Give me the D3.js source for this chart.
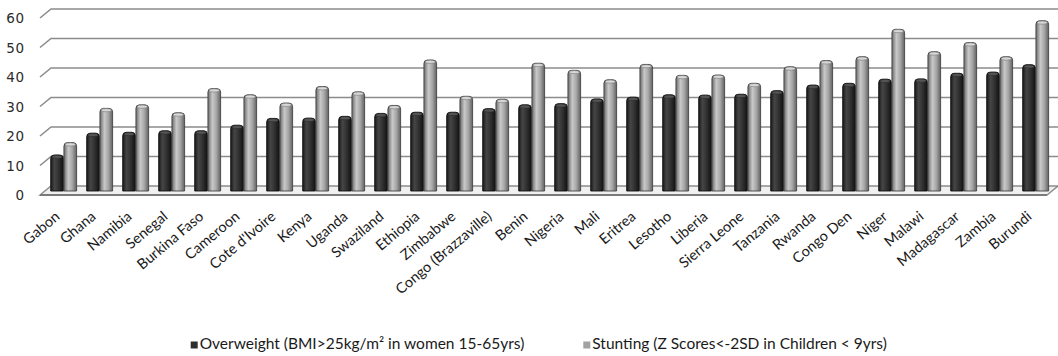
<!DOCTYPE html>
<html>
<head>
<meta charset="utf-8">
<script src="https://cdn.jsdelivr.net/npm/d3@7"></script>
<style>
  html, body { margin: 0; padding: 0; background: #fff; }
  svg { display: block; }
</style>
</head>
<body>
<svg id="chart" width="1058" height="356"></svg>
<script>
const categories = ["Gabon","Ghana","Namibia","Senegal","Burkina Faso","Cameroon","Cote d'Ivoire","Kenya","Uganda","Swaziland","Ethiopia","Zimbabwe","Congo (Brazzaville)","Benin","Nigeria","Mali","Eritrea","Lesotho","Liberia","Sierra Leone","Tanzania","Rwanda","Congo Den","Niger","Malawi","Madagascar","Zambia","Burundi"];
const overweight = [12.2,19.6,19.9,20.4,20.4,22.3,24.6,24.7,25.3,26.3,26.7,26.7,27.9,29.2,29.6,31.2,31.8,32.6,32.5,32.8,34.0,35.9,36.5,37.9,38.0,39.9,40.3,42.8];
const stunting = [16.4,28.0,29.2,26.5,34.7,32.6,29.8,35.4,33.6,29.0,44.4,32.1,31.1,43.3,40.9,37.7,42.9,39.2,39.3,36.5,42.1,44.2,45.5,54.8,47.2,50.3,45.5,57.7];
const yTicks = [0,10,20,30,40,50,60];
const seriesNames = ["Overweight (BMI>25kg/m\u00B2 in women 15-65yrs)", "Stunting (Z Scores<-2SD in Children < 9yrs)"];

const svg = d3.select("#chart");
const defs = svg.append("defs");

function grad(id, stops) {
  const g = defs.append("linearGradient").attr("id", id).attr("x1", "0").attr("x2", "1").attr("y1", "0").attr("y2", "0");
  stops.forEach(s => g.append("stop").attr("offset", s[0]).attr("stop-color", s[1]));
}
grad("gDark", [["0%", "#1a1a1a"], ["30%", "#454545"], ["55%", "#363636"], ["100%", "#131313"]]);
grad("gLight", [["0%", "#6a6a6a"], ["35%", "#c8c8c8"], ["65%", "#a8a8a8"], ["100%", "#626262"]]);

const x = d3.scaleBand().domain(categories).range([45.66, 1053.66]).paddingInner(0.28).paddingOuter(0.14);
const xs = d3.scaleBand().domain([0, 1]).range([0, x.bandwidth()]).paddingInner(0.04);
const y = d3.scaleLinear().domain([0, 60]).range([191, 14]);

const back = { dx: 5.5, dy: -5 };
const front = { dx: -5.5, dy: 4 };
const leftX = 45.5, rightX = 1052.5;

svg.append("g").selectAll("path").data(yTicks.filter(d => d > 0)).join("path")
  .attr("d", d => `M${leftX + front.dx},${y(d) + front.dy} L${leftX + back.dx},${y(d) + back.dy} L${1058},${y(d) + back.dy}`)
  .attr("fill", "none").attr("stroke", "#8c8c8c").attr("stroke-width", 1.6);

svg.append("path")
  .attr("d", `M${leftX + front.dx},${y(0) + front.dy} L${rightX + front.dx},${y(0) + front.dy} L${rightX + back.dx},${y(0) + back.dy} L${leftX + back.dx},${y(0) + back.dy} Z`)
  .attr("fill", "#f0f0f0").attr("stroke", "#8c8c8c").attr("stroke-width", 1.4);
svg.append("line")
  .attr("x1", leftX + front.dx).attr("x2", rightX + front.dx)
  .attr("y1", y(0) + front.dy).attr("y2", y(0) + front.dy)
  .attr("stroke", "#7a7a7a").attr("stroke-width", 2.2);

function barPath(x0, w, top, bottom) {
  const r = Math.min(3.5, w / 2);
  return `M${x0},${bottom} L${x0},${top + r} Q${x0},${top} ${x0 + r},${top} L${x0 + w - r},${top} Q${x0 + w},${top} ${x0 + w},${top + r} L${x0 + w},${bottom} Z`;
}
const rows = categories.map((c, i) => ({ c, vals: [overweight[i], stunting[i]] }));
const groups = svg.append("g").selectAll("g").data(rows).join("g")
  .attr("transform", d => `translate(${x(d.c)},0)`);
groups.selectAll("path").data(d => d.vals.map((v, k) => ({ v, k }))).join("path")
  .attr("d", d => barPath(xs(d.k), xs.bandwidth(), y(d.v), y(0)))
  .attr("fill", d => d.k === 0 ? "url(#gDark)" : "url(#gLight)")
  .attr("stroke", d => d.k === 0 ? "#111" : "#444")
  .attr("stroke-width", 0.9);
groups.selectAll("ellipse").data(d => d.vals.map((v, k) => ({ v, k }))).join("ellipse")
  .attr("cx", d => xs(d.k) + xs.bandwidth() / 2)
  .attr("cy", d => y(d.v) + 1.8)
  .attr("rx", xs.bandwidth() / 2 - 1.2)
  .attr("ry", 1.6)
  .attr("fill", d => d.k === 0 ? "#555" : "#d8d8d8")
  .attr("stroke", d => d.k === 0 ? "#222" : "#666")
  .attr("stroke-width", 0.5);

svg.append("g").selectAll("text").data(yTicks).join("text")
  .attr("x", 25).attr("y", d => y(d) + front.dy)
  .attr("text-anchor", "end").attr("dominant-baseline", "central")
  .attr("font-family", "DejaVu Sans").attr("font-size", 13.5).attr("letter-spacing", 0.8)
  .attr("fill", "#2a2a2a")
  .text(d => d);

svg.append("g").selectAll("text").data(categories).join("text")
  .attr("x", d => x(d) + x.bandwidth() / 2 - 3)
  .attr("y", 218)
  .attr("transform", d => `rotate(-40 ${x(d) + x.bandwidth() / 2 - 3} 218)`)
  .attr("text-anchor", "end")
  .attr("font-family", "Lato").attr("font-size", 14.5)
  .attr("fill", "#1a1a1a")
  .text(d => d);

const legendX = [190.7, 583.3];
const lg = svg.append("g").selectAll("g").data(seriesNames).join("g");
lg.append("rect")
  .attr("x", (d, i) => legendX[i]).attr("y", 341.5).attr("width", 7).attr("height", 7)
  .attr("fill", (d, i) => i === 0 ? "#2e2e2e" : "#a2a2a2");
lg.append("text")
  .attr("x", (d, i) => legendX[i] + 9).attr("y", 349)
  .attr("font-family", "Lato").attr("font-size", 15.5)
  .attr("fill", "#1a1a1a")
  .text(d => d);
</script>
</body>
</html>
